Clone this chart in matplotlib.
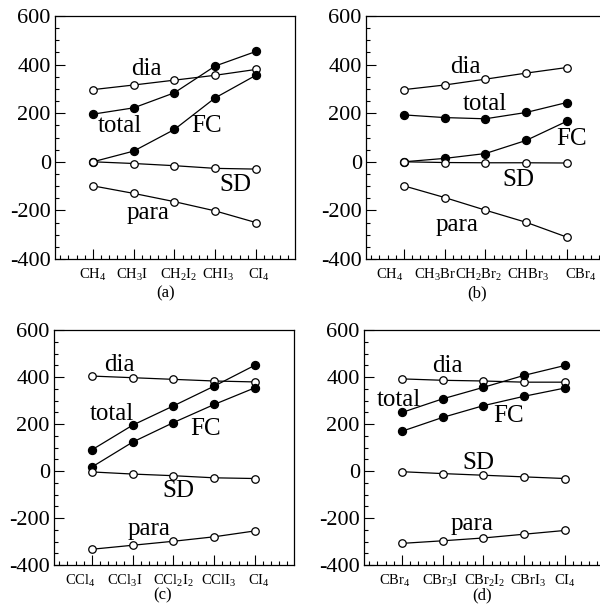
import matplotlib
matplotlib.use("Agg")
import matplotlib.pyplot as plt
from matplotlib.ticker import MultipleLocator

plt.rcParams['font.family'] = ['Liberation Serif', 'DejaVu Serif']
plt.rcParams['mathtext.fontset'] = 'custom'
plt.rcParams['mathtext.rm'] = 'Liberation Serif'
plt.rcParams['mathtext.it'] = 'Liberation Serif:italic'
plt.rcParams['mathtext.bf'] = 'Liberation Serif:bold'

# ---- data ----
cats_a = [r'$\mathrm{CH_4}$', r'$\mathrm{CH_3I}$', r'$\mathrm{CH_2I_2}$', r'$\mathrm{CHI_3}$', r'$\mathrm{CI_4}$']
dia_a = [297, 316, 336, 356, 380]
total_a = [196, 222, 284, 394, 454]
fc_a = [0, 44, 133, 263, 356]
sd_a = [0, -7, -16, -27, -30]
para_a = [-99, -130, -164, -202, -250]

cats_b = [r'$\mathrm{CH_4}$', r'$\mathrm{CH_3Br}$', r'$\mathrm{CH_2Br_2}$', r'$\mathrm{CHBr_3}$', r'$\mathrm{CBr_4}$']
dia_b = [297, 316, 340, 365, 388]
total_b = [193, 182, 177, 203, 244]
fc_b = [0, 14, 34, 88, 167]
sd_b = [0, -3, -4, -4, -5]
para_b = [-99, -147, -199, -249, -310]

cats_c = [r'$\mathrm{CCl_4}$', r'$\mathrm{CCl_3I}$', r'$\mathrm{CCl_2I_2}$', r'$\mathrm{CClI_3}$', r'$\mathrm{CI_4}$']
dia_c = [404, 397, 390, 383, 379]
total_c = [90, 195, 277, 361, 450]
fc_c = [17, 123, 206, 283, 354]
sd_c = [-4, -13, -20, -29, -32]
para_c = [-333, -316, -299, -280, -255]

cats_d = [r'$\mathrm{CBr_4}$', r'$\mathrm{CBr_3I}$', r'$\mathrm{CBr_2I_2}$', r'$\mathrm{CBrI_3}$', r'$\mathrm{CI_4}$']
dia_d = [392, 386, 383, 378, 378]
total_d = [249, 307, 356, 407, 449]
fc_d = [169, 228, 278, 318, 353]
sd_d = [-3, -11, -18, -25, -32]
para_d = [-308, -297, -285, -269, -253]

panel_names = ['(a)', '(b)', '(c)', '(d)']

W, H = 600, 609
fig = plt.figure(figsize=(W / 100, H / 100), dpi=100)


def px_axes(left, top, width, height):
    return fig.add_axes([left / W, (H - top - height) / H, width / W, height / H])


panels = [
    dict(rect=(55, 16, 240, 243), cats=cats_a, dia=dia_a, total=total_a, fc=fc_a, sd=sd_a, para=para_a,
         labels={'dia': (2.32, 381), 'total': (1.66, 147), 'FC': (3.79, 147), 'SD': (4.49, -95), 'para': (2.35, -211)},
         lab_off=[0, -1, 3, 2, 2], lab_y=-14, name_xy=(166, 293)),
    dict(rect=(366, 16, 240, 243), cats=cats_b, dia=dia_b, total=total_b, fc=fc_b, sd=sd_b, para=para_b,
         labels={'dia': (2.52, 390), 'total': (2.99, 238), 'FC': (5.12, 95), 'SD': (3.81, -75), 'para': (2.30, -259)},
         lab_off=[-10, -7, -5, 1, 10], lab_y=-14, name_xy=(477, 293)),
    dict(rect=(54, 330, 240, 235), cats=cats_c, dia=dia_c, total=total_c, fc=fc_c, sd=sd_c, para=para_c,
         labels={'dia': (1.68, 453), 'total': (1.48, 243), 'FC': (3.80, 180), 'SD': (3.13, -85), 'para': (2.39, -246)},
         lab_off=[-8, -6, 0, 3, 3], lab_y=-14, name_xy=(163, 595)),
    dict(rect=(364, 330, 240, 235), cats=cats_d, dia=dia_d, total=total_d, fc=fc_d, sd=sd_d, para=para_d,
         labels={'dia': (2.12, 447), 'total': (0.92, 301), 'FC': (3.61, 232), 'SD': (2.88, 33), 'para': (2.73, -226)},
         lab_off=[-5, -2, 1, 3, 0], lab_y=-14, name_xy=(482, 595)),
]

for p, name in zip(panels, panel_names):
    ax = px_axes(*p['rect'])
    x = list(range(1, len(p['cats']) + 1))
    for key, filled in [('dia', False), ('total', True), ('fc', True), ('sd', False), ('para', False)]:
        ax.plot(x, p[key], color='black', lw=0.9, marker='o',
                ms=5.8 if filled else 5.4,
                mfc='black' if filled else 'white', mec='black', mew=0.9, clip_on=False, zorder=3)
    for txt, (tx, ty) in p['labels'].items():
        ax.text(tx, ty, txt, fontsize=18, ha='center', va='center')
    ax.set_xlim(0.07, 5.96)
    ax.set_ylim(-400, 600)
    ax.set_xticks(x)
    ax.set_xticklabels([])
    for xi, lbl, off in zip(x, p['cats'], p['lab_off']):
        ax.annotate(lbl, xy=(xi, 0), xycoords=('data', 'axes fraction'),
                    xytext=(off, p['lab_y']), textcoords='offset points',
                    ha='center', va='baseline', fontsize=10.5, annotation_clip=False)
    ax.set_yticks([-400, -200, 0, 200, 400, 600])
    ax.set_yticklabels(['-400', '-200', '0', '200', '400', '600'], fontsize=16)
    ax.xaxis.set_minor_locator(MultipleLocator(0.2))
    ax.yaxis.set_minor_locator(MultipleLocator(50))
    ax.tick_params(which='both', direction='in', top=False, right=False, width=0.8)
    ax.tick_params(which='major', length=7)
    ax.tick_params(which='minor', length=3)
    ax.tick_params(axis='y', which='major', pad=3)
    for s in ax.spines.values():
        s.set_linewidth(0.9)
    cx, cy = p['name_xy']
    fig.text(cx / W, 1 - cy / H, name, fontsize=12, ha='center', va='center')

fig.savefig('out.png', dpi=100)
